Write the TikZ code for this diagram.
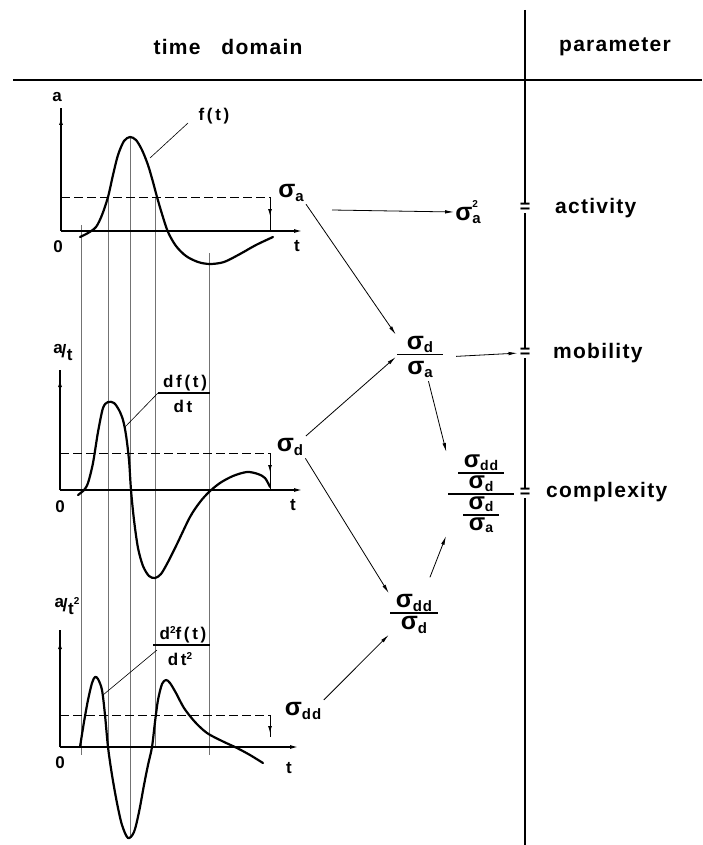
\documentclass[tikz,border=0pt]{standalone}
\usepackage{fontspec}
\setmainfont{Liberation Sans}[LetterSpace=6]
\newfontfamily\sgf{Liberation Sans}
\newfontfamily\smf{Liberation Sans}[LetterSpace=16]
\usetikzlibrary{arrows.meta}
\newcommand{\sgm}[1]{{\sgf\fontsize{25}{25}\selectfont\bfseries σ}\raisebox{-3.5pt}{\fontsize{15}{15}\selectfont\bfseries #1}}
\newcommand{\sgms}[1]{{\sgf\fontsize{24}{24}\selectfont\bfseries σ}\raisebox{-2.5pt}{\fontsize{14}{14}\selectfont\bfseries #1}}
\newcommand{\sgmsq}{{\sgf\fontsize{25}{25}\selectfont\bfseries σ}\rlap{\raisebox{13pt}{\fontsize{10}{10}\selectfont\bfseries 2}}\raisebox{-3.5pt}{\fontsize{15}{15}\selectfont\bfseries a}}
\newcommand{\fb}[2]{\hbox to #1{\hss#2\hss}}
\newcommand{\myfrac}[5]{\vbox{\fb{#1}{#2}\kern #4\hrule height 1.5pt\kern #5\fb{#1}{#3}}}
\newcommand{\aover}[1]{\raisebox{4pt}{a}\kern-1.5pt{\sgf\fontsize{18}{18}\selectfont/}\kern0.5pt\raisebox{-3pt}{t}#1}
\tikzset{
  curve/.style={line width=2.2pt, line join=round, line cap=round},
  guide/.style={line width=0.6pt, black!55},
  axis/.style={line width=1.2pt},
  dashline/.style={line width=0.9pt, dash pattern=on 9pt off 4pt},
  arr/.style={line width=0.8pt, -{Latex[length=9pt,width=3.5pt]}},
  tip/.style={line width=1pt, -{Latex[length=7pt,width=4pt]}},
  lbl/.style={font=\fontsize{21}{24}\selectfont\bfseries, inner sep=0pt},
  small/.style={font=\smf\fontsize{17}{18}\selectfont\bfseries, inner sep=0pt},
  sg/.style={inner sep=1pt},
  eqs/.style={font=\fontsize{18}{18}\selectfont\bfseries, inner sep=0pt, fill=white},
}
\begin{document}
\begin{tikzpicture}[x=1pt,y=-1pt]
\useasboundingbox (0,0) rectangle (702,845);
\fill[white] (0,0) rectangle (702,845);

% frame
\draw[line width=1.6pt] (13,80) -- (702,80);
\draw[line width=1.2pt] (525,10) -- (525,845);
\node[lbl] (hTime) at (228,47) {time\hspace{1em}domain};
\node[lbl] (hPar) at (615,47) {parameter};

% guide lines
\draw[guide] (81,225) -- (81,755);
\draw[guide] (108,197) -- (108,747);
\draw[guide] (130,137) -- (130,838);
\draw[guide] (155,197) -- (155,747);
\draw[guide] (209,253) -- (209,755);

% ---------- top plot ----------
\draw[axis] (61,231) -- (61,108);
\draw[tip] (61,140) -- (61,118);
\draw[axis,-{Latex[length=8pt,width=4pt]}] (61,231) -- (302,231);
\node[small] (aTop) at (57,97) {a};
\node[small] (zTop) at (58,247) {0};
\node[small] (tTop) at (297,246) {t};
\draw[dashline] (61,197) -- (270,197);
\draw[line width=0.8pt] (270,197) -- (270,231);
\draw[tip] (270,200) -- (270,216);
\draw[curve] plot[smooth, tension=0.5] coordinates {(80,237) (88,233) (96,227) (102,215) (108,197) (113,175) (118,155) (124,141) (130,137) (136,140) (142,150) (148,165) (153,182) (157,197) (162,214) (168,232) (176,246) (186,256) (198,262) (210,264) (224,262) (240,254) (256,245) (273,237)};
\node[small] (fLab) at (214,116) {f(t)};
\draw[line width=0.6pt] (188,123) -- (150,158);
\node[sg] (sigA) at (291,193) {\sgm{a}};

% ---------- middle plot ----------
\draw[axis] (60,490) -- (60,370);
\draw[tip] (60,400) -- (60,380);
\draw[axis,-{Latex[length=8pt,width=4pt]}] (60,490) -- (302,490);
\node[small] (aMid) at (63,352) {\aover{}};
\node[small] (zMid) at (60,507) {0};
\node[small] (tMid) at (293,505) {t};
\draw[dashline] (60,453) -- (270,453);
\draw[line width=0.8pt] (270,453) -- (270,490);
\draw[tip] (270,455) -- (270,472);
\draw[curve] plot[smooth, tension=0.5] coordinates {(78,495) (84,490) (88,483) (93,463) (98,432) (103,408) (108,402) (114,403) (119,410) (123,420) (126,435) (129,460) (131,490) (134,520) (138,548) (143,566) (149,576) (155,578) (161,574) (168,562) (177,544) (190,517) (200,502) (209,492) (220,483) (233,476) (247,472) (258,474) (265,478) (270,487)};
\draw[line width=1.3pt] (158,393) -- (210,393);
\node[small] (dfNum) at (185,383) {df(t)};
\node[small] (dfDen) at (183,406) {dt};
\draw[line width=0.6pt] (158,393) -- (125,427);
\node[sg] (sigD) at (290,447) {\sgm{d}};

% ---------- bottom plot ----------
\draw[axis] (60,747) -- (60,630);
\draw[tip] (60,662) -- (60,642);
\draw[axis,-{Latex[length=8pt,width=4pt]}] (60,747) -- (298,747);
\node[small] (aBot) at (67,606) {\aover{\raisebox{7pt}{\fontsize{10}{10}\selectfont 2}}};
\node[small] (zBot) at (60,763) {0};
\node[small] (tBot) at (289,768) {t};
\draw[dashline] (60,715) -- (270,715);
\draw[line width=0.8pt] (270,715) -- (270,737);
\draw[tip] (270,718) -- (270,733);
\draw[curve] plot[smooth, tension=0.5] coordinates {(80,747) (84,722) (88,700) (92,683) (95,677) (98,679) (102,690) (105,715) (108,747) (112,775) (117,803) (122,825) (128,838) (134,832) (139,812) (144,785) (148,765) (152,747) (155,722) (158,700) (162,684) (166,680) (170,683) (176,693) (184,708) (195,722) (207,733) (222,741) (237,748) (250,755) (263,763)};
\draw[line width=1.3pt] (153,645) -- (210,645);
\node[small] (ddNum) at (183,635) {d\raisebox{6pt}{\fontsize{10}{10}\selectfont 2}f(t)};
\node[small] (ddDen) at (180,659) {dt\raisebox{6pt}{\fontsize{10}{10}\selectfont 2}};
\draw[line width=0.6pt] (157,650) -- (103,695);
\node[sg] (sigDD) at (303,711) {\sgm{dd}};

% ---------- right side ----------
\node[sg] (sigA2) at (468,212) {\sgmsq};
\node[sg] (fracM) at (420,357) {\myfrac{46pt}{\sgm{d}}{\sgm{a}}{1pt}{6pt}};
\node[sg] (fracDD) at (414,614) {\myfrac{48pt}{\sgm{dd}}{\sgm{d}}{1pt}{3pt}};
\node[sg] (fracC) at (481,494) {\myfrac{66pt}{\myfrac{46pt}{\sgms{dd}}{\sgms{d}}{2pt}{2pt}}{\myfrac{36pt}{\sgms{d}}{\sgms{a}}{2pt}{2pt}}{2pt}{2pt}};

\node[eqs] (eqA) at (525,208) {=};
\node[eqs] (eqM) at (525,353) {=};
\node[eqs] (eqC) at (525,493) {=};
\node[lbl, anchor=west] (act) at (555,208) {activity};
\node[lbl, anchor=west] (mob) at (553,353) {mobility};
\node[lbl, anchor=west] (cpx) at (546,492) {complexity};

\coordinate (aStart) at (332,210);
\draw[arr] (aStart) -- (sigA2.west);
\draw[arr, shorten <=2pt] (sigA.south east) -- (fracM.north west);
\draw[arr, shorten <=2pt] (sigD.north east) -- (fracM.west);
\draw[arr, shorten <=2pt] (sigD.south east) -- (fracDD.north west);
\draw[arr, shorten <=2pt] (sigDD.north east) -- (fracDD.south west);
\draw[arr, shorten <=12pt, shorten >=2pt] (fracM.east) -- (eqM.west);
\draw[arr, shorten <=2pt, shorten >=2pt] (fracM.south) ++(8,0) -- (fracC.north west);
\draw[arr, shorten <=2pt, shorten >=2pt] (fracDD.north east) ++(-10,-14) -- (fracC.south west);
\end{tikzpicture}
\end{document}
